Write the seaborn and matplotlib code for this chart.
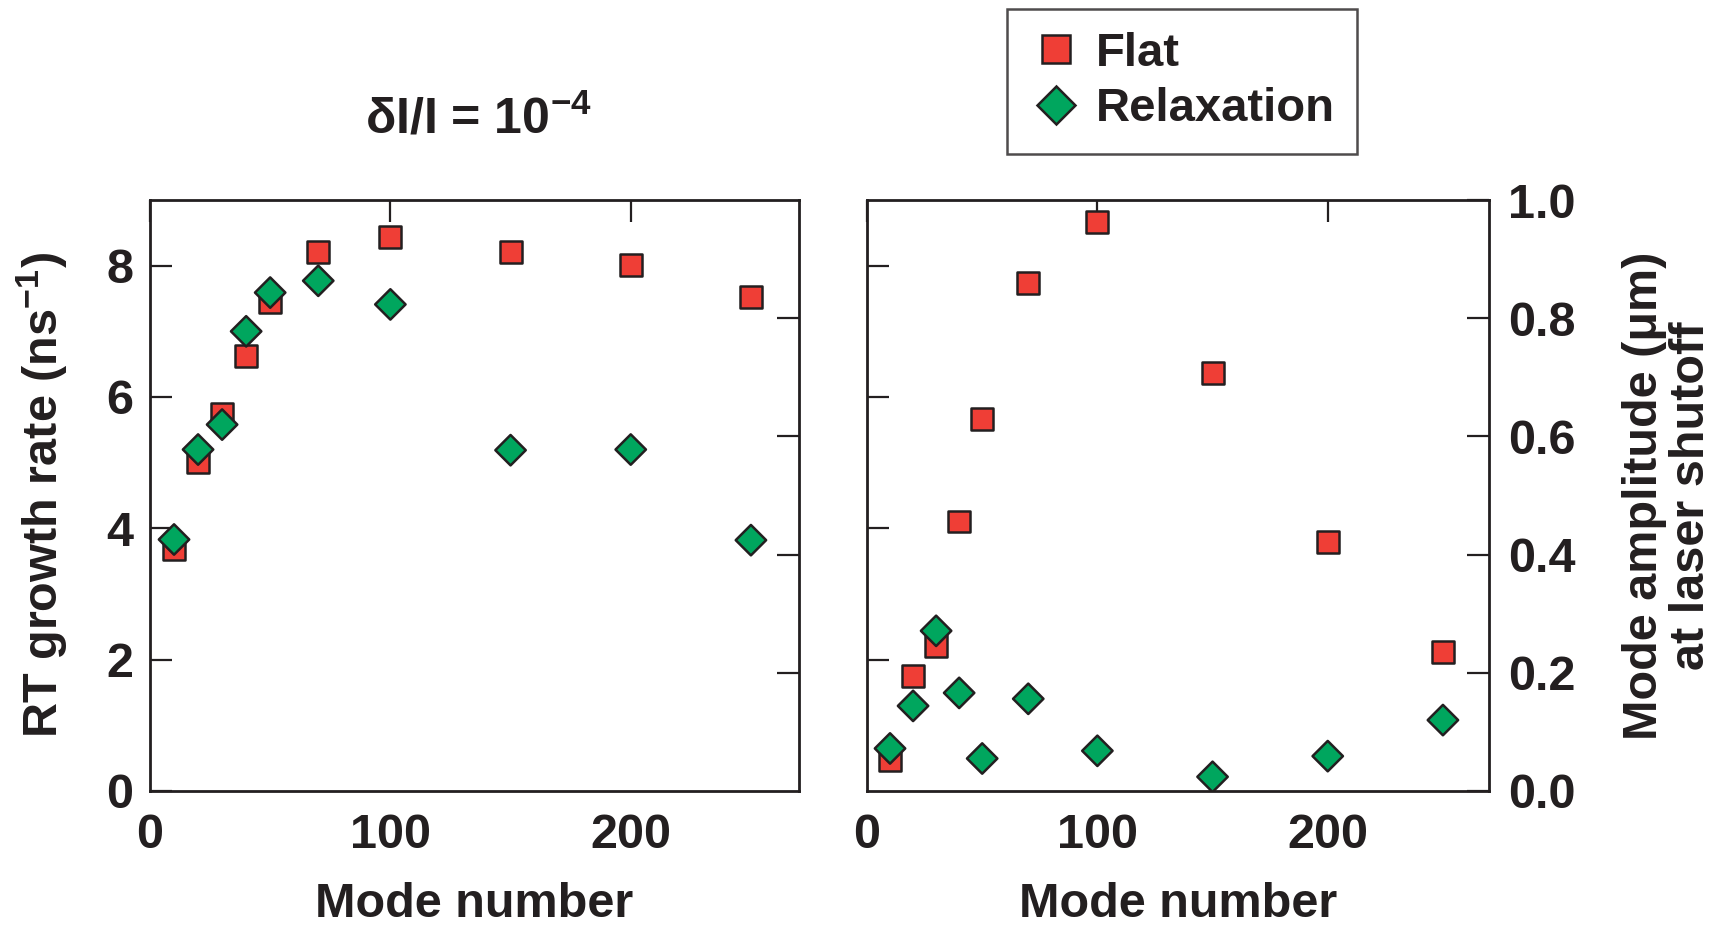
import matplotlib
matplotlib.use("Agg")
import matplotlib.pyplot as plt
import seaborn as sns
import pandas as pd

# Mode numbers and results for the two laser-pulse profiles
modes = [10, 20, 30, 40, 50, 70, 100, 150, 200, 250]
growth_flat = [3.69, 5.01, 5.74, 6.63, 7.44, 8.21, 8.44, 8.21, 8.01, 7.52]
growth_relax = [3.83, 5.20, 5.58, 7.00, 7.59, 7.77, 7.41, 5.19, 5.20, 3.82]
amp_flat = [0.052, 0.194, 0.245, 0.456, 0.629, 0.860, 0.962, 0.707, 0.422, 0.235]
amp_relax = [0.072, 0.144, 0.271, 0.166, 0.055, 0.156, 0.068, 0.024, 0.059, 0.120]

profiles = ["Flat", "Relaxation"]
colors = {"Flat": "#EF3E36", "Relaxation": "#00A65E"}
marker_map = {"Flat": "s", "Relaxation": "D"}
edge = "#231F20"

growth = pd.DataFrame({
    "mode": modes * 2,
    "value": growth_flat + growth_relax,
    "profile": ["Flat"] * len(modes) + ["Relaxation"] * len(modes),
})
amplitude = pd.DataFrame({
    "mode": modes * 2,
    "value": amp_flat + amp_relax,
    "profile": ["Flat"] * len(modes) + ["Relaxation"] * len(modes),
})

sns.set_theme(style="white")
plt.rcParams["font.family"] = ["Liberation Sans", "DejaVu Sans"]
plt.rcParams["font.weight"] = "bold"
plt.rcParams["mathtext.fontset"] = "custom"
plt.rcParams["mathtext.rm"] = "Liberation Sans:bold"
plt.rcParams["mathtext.bf"] = "Liberation Sans:bold"
plt.rcParams["mathtext.it"] = "Liberation Sans:bold"
plt.rcParams["mathtext.default"] = "regular"

W, H = 1717, 931
fig = plt.figure(figsize=(W / 100, H / 100), dpi=100)

def box(x0, x1, y0, y1):
    return [x0 / W, 1 - y1 / H, (x1 - x0) / W, (y1 - y0) / H]

ax1 = fig.add_axes(box(150, 799, 200, 791))
ax2 = fig.add_axes(box(867, 1489, 200, 791))

TICK_FS = 35
LABEL_FS = 35
size_map = {"Flat": 250, "Relaxation": 240}

for ax, df in [(ax1, growth), (ax2, amplitude)]:
    sns.scatterplot(data=df, x="mode", y="value", hue="profile", style="profile",
                    size="profile", sizes=size_map,
                    hue_order=profiles, style_order=profiles, size_order=profiles,
                    palette=colors, markers=marker_map, edgecolor=edge,
                    linewidth=1.8, ax=ax, legend=(ax is ax1), zorder=3)
    ax.set_xlim(0, 270)
    ax.set_xticks([0, 100, 200])
    for s in ax.spines.values():
        s.set_linewidth(2.0)
        s.set_color(edge)
    ax.tick_params(axis="both", direction="in", length=16, width=1.6,
                   color=edge, labelsize=TICK_FS, labelcolor=edge)
    ax.tick_params(axis="x", top=True, pad=16)
    ax.set_xlabel("Mode number", fontsize=LABEL_FS, fontweight="bold",
                  color=edge, labelpad=17)

# left panel: growth rate
ax1.set_ylim(0, 9)
ax1.set_yticks([0, 2, 4, 6, 8])
ax1.tick_params(axis="y", left=True, right=False, pad=12)
ax1.set_ylabel("RT growth rate (ns$^{-1}$)", fontsize=LABEL_FS,
               fontweight="bold", color=edge, labelpad=26)
sec1 = ax1.secondary_yaxis("right", functions=(lambda y: y / 9, lambda v: v * 9))
sec1.set_yticks([0.2, 0.4, 0.6, 0.8])
sec1.tick_params(direction="in", length=16, width=1.6, color=edge, labelright=False)
sec1.spines["right"].set_visible(False)

# right panel: mode amplitude
ax2.set_ylim(0, 1.0)
ax2.set_yticks([0.0, 0.2, 0.4, 0.6, 0.8, 1.0])
ax2.set_yticklabels([f"{v:.1f}" for v in [0.0, 0.2, 0.4, 0.6, 0.8, 1.0]])
ax2.yaxis.tick_right()
ax2.tick_params(axis="y", left=False, right=True, labelright=True, pad=14)
ax2.yaxis.set_label_position("right")
ax2.set_ylabel("Mode amplitude (μm)\nat laser shutoff", fontsize=LABEL_FS,
               fontweight="bold", color=edge, labelpad=33, linespacing=1.05)
sec2 = ax2.secondary_yaxis("left", functions=(lambda v: v * 9, lambda y: y / 9))
sec2.set_yticks([2, 4, 6, 8])
sec2.tick_params(direction="in", length=16, width=1.6, color=edge, labelleft=False)
sec2.spines["left"].set_visible(False)

# title over the growth-rate panel
fig.text(478 / W, 1 - 119 / H,
         "δI/I = 10$^{-4}$", ha="center", va="center",
         fontsize=LABEL_FS + 1, fontweight="bold", color=edge)

# shared legend at the top
handles, labels = ax1.get_legend_handles_labels()
ax1.get_legend().remove()
leg = fig.legend(handles, labels, loc="upper left",
                 bbox_to_anchor=(1007 / W, 1 - 9 / H), borderaxespad=0,
                 fontsize=LABEL_FS - 1, frameon=True, fancybox=False,
                 edgecolor=edge, borderpad=0.48, handletextpad=0.3,
                 labelspacing=0.25, handlelength=1.1, markerscale=1.25)
leg.get_frame().set_linewidth(1.8)
for t in leg.get_texts():
    t.set_fontweight("bold")
    t.set_color(edge)

fig.savefig("out.png", dpi=100)
